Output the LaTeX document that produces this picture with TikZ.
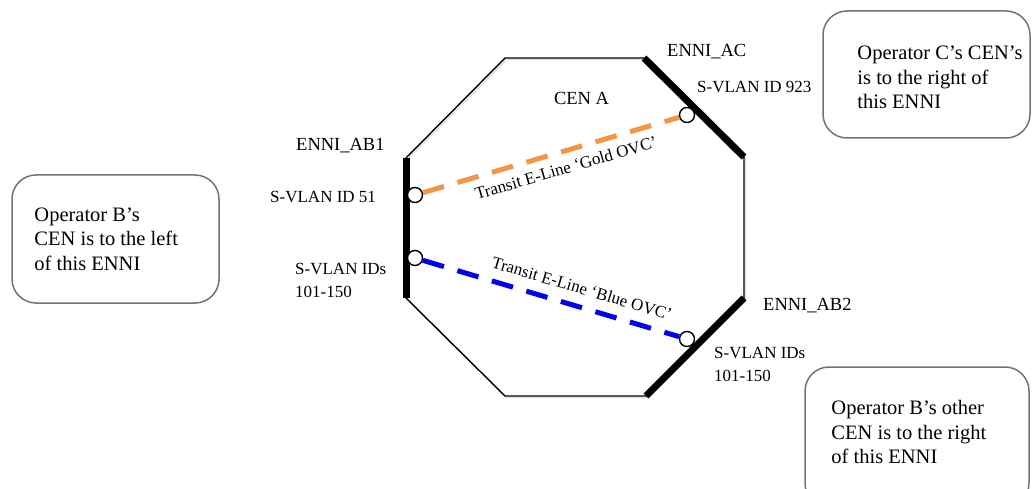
\documentclass[tikz,border=0pt]{standalone}
\usepackage{fontspec}
\setmainfont{Liberation Serif}
\usetikzlibrary{positioning}
\definecolor{goldovc}{RGB}{242,150,70}
\definecolor{blueovc}{RGB}{0,0,240}
\tikzset{
  cenedge/.style={line width=1.4pt},
  enni/.style={line width=7pt},
  port/.style={circle, draw, fill=white, line width=1.4pt, minimum size=15pt, inner sep=0pt},
  ovc/.style={line width=5pt, dash pattern=on 22pt off 14pt},
  note/.style={draw=black!55, line width=1.5pt, rounded corners=24pt},
  lbl/.style={inner sep=0pt, text=black, font=\fontsize{17}{23}\selectfont},
  ennilbl/.style={inner sep=0pt, font=\fontsize{18.5}{22}\selectfont},
  notetxt/.style={inner sep=0pt, align=left, font=\fontsize{20.5}{24.5}\selectfont},
}
\begin{document}
\begin{tikzpicture}[x=1pt, y=-1pt]
  \useasboundingbox (0,0) rectangle (1035,489);
  \clip (0,0) rectangle (1035,489);
  % CEN A
  \coordinate (tl) at (505,58);
  \coordinate (tr) at (644,58);
  \coordinate (rt) at (744,157);
  \coordinate (rb) at (744,298);
  \coordinate (br) at (646,396);
  \coordinate (bl) at (505,396);
  \coordinate (lb) at (406,298);
  \coordinate (lt) at (406,158);
  \draw [cenedge, black!12, transform canvas={shift={(1.5pt,-1.5pt)}}]
    (tl) -- (tr) -- (rt) -- (rb) -- (br) -- (bl) -- (lb) -- (lt) -- cycle;
  \draw [cenedge] (tl) -- (tr) -- (rt) -- (rb) -- (br) -- (bl) -- (lb) -- (lt) -- cycle;
  \node [ennilbl] (cenA) at (581.5,98) {CEN A};
  % ENNIs
  \draw [enni] (lt) -- (lb);
  \draw [enni] (tr) -- (rt);
  \draw [enni] (rb) -- (br);
  \node [ennilbl, anchor=west] (ab1) at (296,146) {ENNI\_AB1};
  \node [ennilbl, anchor=west] (ac) at (667,52) {ENNI\_AC};
  \node [ennilbl, anchor=west] (ab2) at (763,306) {ENNI\_AB2};
  % OVC end points
  \node [port] (g1) at (415,195) {};
  \node [port] (g2) at (687,115) {};
  \node [port] (b1) at (415,258) {};
  \node [port] (b2) at (687,339) {};
  \draw [ovc, goldovc] (g1) -- node [lbl, sloped, below=8pt, pos=0.54] (gold) {Transit E-Line ‘Gold OVC’} (g2);
  \draw [ovc, blueovc] (b1) -- node [lbl, sloped, above=10pt, pos=0.6] (blue) {Transit E-Line ‘Blue OVC’} (b2);
  \node [lbl, anchor=west] (vid51) at (270,197) {S-VLAN ID 51};
  \node [lbl, anchor=west, align=left] (vidab1) at (295,280.5) {S-VLAN IDs\\101-150};
  \node [lbl, anchor=west] (vid923) at (697,87) {S-VLAN ID 923};
  \node [lbl, anchor=west, align=left] (vidab2) at (714,364.5) {S-VLAN IDs\\101-150};
  % operators
  \node [note, minimum width=207pt, minimum height=128pt] (opB) at (115.5,239) {};
  \node [notetxt, right=23pt of opB.west] (opBtxt) {Operator B’s\\CEN is to the left\\of this ENNI};
  \node [note, minimum width=207pt, minimum height=127pt] (opC) at (926.5,74.5) {};
  \node [notetxt, right=35pt of opC.west, yshift=-3pt] (opCtxt) {Operator C’s CEN’s\\is to the right of\\this ENNI};
  \node [note, minimum width=224pt, minimum height=140pt] (opB2) at (917,437) {};
  \node [notetxt, right=27pt of opB2.west, yshift=5pt] (opB2txt) {Operator B’s other\\CEN is to the right\\of this ENNI};
\end{tikzpicture}
\end{document}
